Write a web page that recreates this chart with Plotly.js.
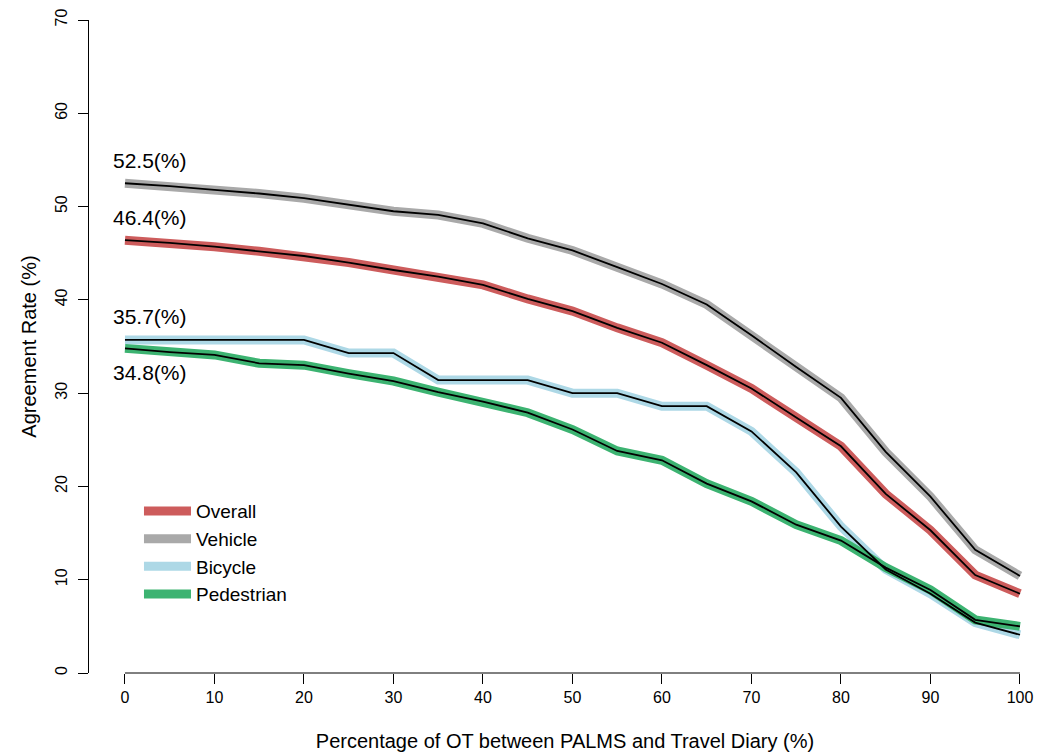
<!DOCTYPE html>
<html>
<head>
<meta charset="utf-8">
<script src="https://cdn.plot.ly/plotly-3.0.1.min.js"></script>
<style>html,body{margin:0;padding:0;background:#fff;}#chart{width:1041px;height:752px;}</style>
</head>
<body>
<div id="chart"></div>
<script>
const overlap = [0,5,10,15,20,25,30,35,40,45,50,55,60,65,70,75,80,85,90,95,100];
const seriesNames = ["Overall","Vehicle","Bicycle","Pedestrian"];
const overall    = [46.4,46.1,45.7,45.2,44.7,44.0,43.2,42.5,41.6,40.1,38.8,37.0,35.4,33.0,30.5,27.4,24.3,19.2,15.3,10.5,8.5];
const vehicle    = [52.5,52.2,51.8,51.4,50.9,50.2,49.5,49.1,48.2,46.6,45.3,43.5,41.7,39.5,36.2,32.8,29.5,23.7,18.9,13.2,10.4];
const bicycle    = [35.7,35.7,35.7,35.7,35.7,34.3,34.3,31.4,31.4,31.4,30.0,30.0,28.6,28.6,25.9,21.5,15.7,11.1,8.5,5.4,4.1];
const pedestrian = [34.8,34.4,34.1,33.2,33.0,32.1,31.3,30.1,29.1,27.9,26.1,23.8,22.8,20.3,18.4,15.9,14.2,11.3,8.9,5.7,5.0];
const startLabels = ["46.4(%)","52.5(%)","35.7(%)","34.8(%)"];
const xTicks = [0,10,20,30,40,50,60,70,80,90,100];
const yTicks = [0,10,20,30,40,50,60,70];

const colors = ["#CD5C5C","#A9A9A9","#ADD8E6","#3CB371"];
const allSeries = [overall, vehicle, bicycle, pedestrian];
const font = "Liberation Sans, Arial, Helvetica, sans-serif";

const traces = [];
allSeries.forEach((s, i) => {
  traces.push({
    x: overlap, y: s, type: "scatter", mode: "lines", name: seriesNames[i],
    line: {color: colors[i], width: 9}, showlegend: true, hoverinfo: "skip"
  });
});
allSeries.forEach((s, i) => {
  traces.push({
    x: overlap, y: s, type: "scatter", mode: "lines", name: seriesNames[i] + " line",
    line: {color: "#000000", width: 1.8}, showlegend: false
  });
});

const yShifts = [23, 23, 23, -24];
const annotations = allSeries.map((s, i) => ({
  x: overlap[0], y: s[0], xref: "x", yref: "y", text: startLabels[i],
  showarrow: false, xanchor: "center", yanchor: "middle",
  xshift: 25, yshift: yShifts[i], font: {family: font, size: 21, color: "#000"}
}));

const layout = {
  width: 1041, height: 752,
  margin: {l: 89, r: 0, t: 20, b: 79},
  paper_bgcolor: "#fff", plot_bgcolor: "#fff",
  font: {family: font, color: "#000"},
  showlegend: true,
  legend: {
    x: 0.0525, y: 0.277, xanchor: "left", yanchor: "top",
    bgcolor: "rgba(0,0,0,0)", font: {family: font, size: 19, color: "#000"},
    itemwidth: 47, tracegroupgap: 0
  },
  xaxis: {
    range: [-4.02, 102.35], tickvals: xTicks, ticktext: xTicks.map(String),
    ticks: "outside", ticklen: 10, tickcolor: "#000", tickwidth: 1,
    showline: false, showgrid: false, zeroline: false,
    tickfont: {family: font, size: 16, color: "#000"},
    title: {text: "Percentage of OT between PALMS and Travel Diary (%)", font: {family: font, size: 20, color: "#000"}, standoff: 33},
    automargin: false, fixedrange: true
  },
  yaxis: {
    range: [0, 70], tickvals: yTicks, ticktext: yTicks.map(String),
    ticks: "outside", ticklen: 10, tickcolor: "#000", tickwidth: 1, tickangle: -90,
    ticklabelstandoff: 5,
    showline: true, linecolor: "#000", linewidth: 1, mirror: false,
    showgrid: false, zeroline: false,
    tickfont: {family: font, size: 16, color: "#000"},
    title: {text: "Agreement Rate (%)", font: {family: font, size: 20, color: "#000"}, standoff: 10},
    automargin: false, fixedrange: true
  },
  shapes: [{
    type: "line", xref: "x", yref: "paper", x0: xTicks[0], x1: xTicks[xTicks.length - 1], y0: 0, y1: 0,
    line: {color: "#000", width: 1}, layer: "above"
  }],
  annotations: annotations
};

Plotly.newPlot("chart", traces, layout, {displayModeBar: false, staticPlot: true});
</script>
</body>
</html>
